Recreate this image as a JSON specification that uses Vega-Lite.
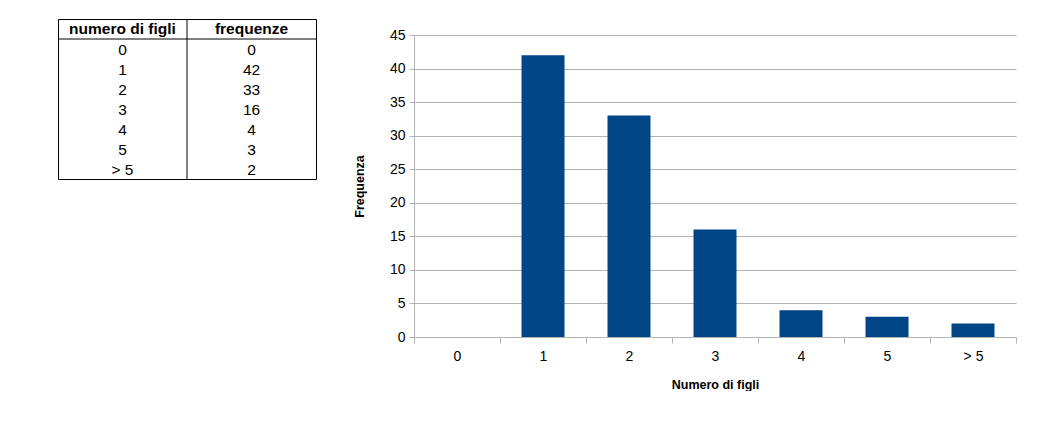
{
  "$schema": "https://vega.github.io/schema/vega-lite/v6.json",
  "padding": {"left": 57, "top": 18, "right": 0, "bottom": 0},
  "background": "white",
  "datasets": {
    "dati": [
      {"figli": "0", "freq": 0},
      {"figli": "1", "freq": 42},
      {"figli": "2", "freq": 33},
      {"figli": "3", "freq": 16},
      {"figli": "4", "freq": 4},
      {"figli": "5", "freq": 3},
      {"figli": "> 5", "freq": 2}
    ]
  },
  "config": {
    "view": {"stroke": null},
    "font": "Liberation Sans",
    "axis": {
      "domainColor": "#b3b3b3",
      "tickColor": "#b3b3b3",
      "gridColor": "#b3b3b3",
      "labelColor": "#000000",
      "labelFont": "Liberation Sans",
      "labelFontSize": 14,
      "titleFont": "Liberation Sans",
      "titleFontSize": 12.5,
      "titleFontWeight": "bold",
      "titleColor": "#000000"
    }
  },
  "spacing": 36,
  "hconcat": [
    {
      "width": 258,
      "height": 160,
      "view": {"stroke": "black", "strokeWidth": 1},
      "layer": [
        {
          "data": {"values": [
            {"col": "numero di figli", "row": "h", "t": "numero di figli"},
            {"col": "frequenze", "row": "h", "t": "frequenze"}
          ]},
          "mark": {"type": "text", "fontWeight": "bold", "fontSize": 15.5, "font": "Liberation Sans", "color": "black"},
          "encoding": {
            "x": {"field": "col", "type": "nominal", "scale": {"domain": ["numero di figli", "frequenze"], "paddingInner": 0, "paddingOuter": 0}, "axis": null},
            "y": {"field": "row", "type": "nominal", "scale": {"domain": ["h", "0", "1", "2", "3", "4", "5", "> 5"], "paddingInner": 0, "paddingOuter": 0}, "axis": null},
            "text": {"field": "t"}
          }
        },
        {
          "data": {"name": "dati"},
          "mark": {"type": "text", "fontSize": 15.5, "font": "Liberation Sans", "color": "black", "dy": 1},
          "encoding": {
            "x": {"datum": "numero di figli", "type": "nominal", "axis": null},
            "y": {"field": "figli", "type": "nominal", "axis": null},
            "text": {"field": "figli"}
          }
        },
        {
          "data": {"name": "dati"},
          "mark": {"type": "text", "fontSize": 15.5, "font": "Liberation Sans", "color": "black", "dy": 1},
          "encoding": {
            "x": {"datum": "frequenze", "type": "nominal", "axis": null},
            "y": {"field": "figli", "type": "nominal", "axis": null},
            "text": {"field": "freq"}
          }
        },
        {
          "data": {"values": [{"col": "frequenze"}]},
          "mark": {"type": "rule", "color": "black", "strokeWidth": 1},
          "encoding": {
            "x": {"field": "col", "type": "nominal", "bandPosition": 0, "axis": null}
          }
        },
        {
          "data": {"values": [{"row": "h"}]},
          "mark": {"type": "rule", "color": "black", "strokeWidth": 1},
          "encoding": {
            "y": {"field": "row", "type": "nominal", "bandPosition": 1, "axis": null}
          }
        }
      ]
    },
    {
      "width": 602,
      "height": 318,
      "data": {"name": "dati"},
      "mark": {"type": "bar", "color": "#004586", "width": {"band": 0.5}},
      "encoding": {
        "x": {
          "field": "figli", "type": "nominal", "sort": null,
          "scale": {"paddingInner": 0, "paddingOuter": 0},
          "axis": {"title": "Numero di figli", "labelAngle": 0, "tickBand": "extent", "tickSize": 6, "labelPadding": 6, "titlePadding": 15}
        },
        "y": {
          "field": "freq", "type": "quantitative",
          "scale": {"domain": [0, 45], "nice": false, "range": [318, 16]},
          "axis": {"title": "Frequenza", "values": [0, 5, 10, 15, 20, 25, 30, 35, 40, 45], "grid": true, "tickSize": 5, "labelPadding": 4, "titlePadding": 23}
        }
      }
    }
  ]
}
